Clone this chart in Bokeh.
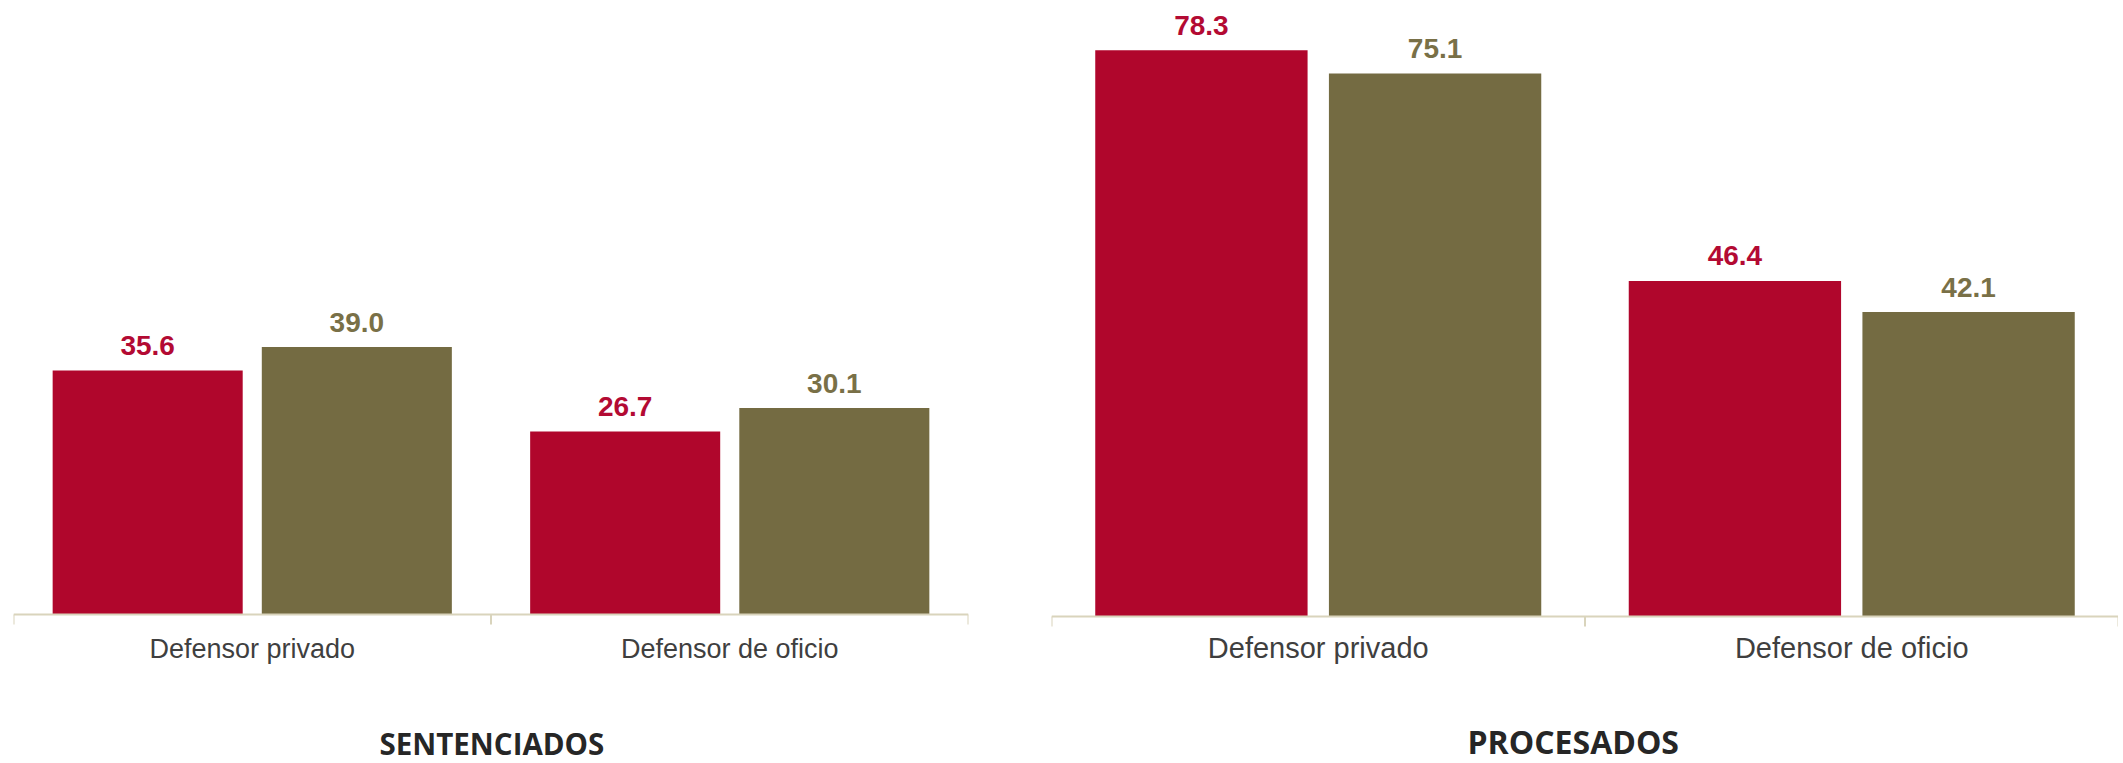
from bokeh.plotting import figure
from bokeh.models import ColumnDataSource, FactorRange, Range1d, Span, Title
from bokeh.transform import dodge
from bokeh.layouts import row
from bokeh.core.properties import value
from bokeh.embed import file_html
from bokeh.resources import INLINE

# ---- data ----
categories = ["Defensor privado", "Defensor de oficio"]
sentenciados_serie1 = [35.6, 26.7]
sentenciados_serie2 = [39.0, 30.1]
procesados_serie1 = [78.3, 46.4]
procesados_serie2 = [75.1, 42.1]
panel_titles = ["SENTENCIADOS", "PROCESADOS"]

# ---- styles ----
RED = "#B0062C"
OLIVE = "#746B42"
RED_TXT = "#B30A33"
OLIVE_TXT = "#797047"
AXIS = "#D9D4BC"
CAT_TXT = "#3F3F3F"
TITLE_TXT = "#262626"

FIG_H = 763
FRAME_TOP = 10      # page px
FRAME_BOTTOM = 629  # page px


def make_panel(s1, s2, title, width, b_left, b_right, px_per_unit, axis_px,
               cat_size, cat_standoff, val_size, title_size, title_dx, spacer):
    y_end = (axis_px - FRAME_TOP) / px_per_unit
    y_start = (axis_px - FRAME_BOTTOM) / px_per_unit
    p = figure(width=width, height=FIG_H,
               x_range=FactorRange(factors=categories, range_padding=0),
               y_range=Range1d(y_start, y_end),
               output_backend="svg", toolbar_location=None,
               y_axis_location=None,
               min_border_left=b_left, min_border_right=b_right,
               min_border_top=FRAME_TOP, min_border_bottom=FIG_H - FRAME_BOTTOM)
    p.outline_line_color = None
    p.xgrid.grid_line_color = None
    p.ygrid.grid_line_color = None
    p.background_fill_color = "white"
    p.border_fill_color = "white"

    src = ColumnDataSource(dict(
        cat=categories, s1=s1, s2=s2,
        l1=[f"{v:.1f}" for v in s1], l2=[f"{v:.1f}" for v in s2]))

    off, w = 0.219, 0.398
    p.vbar(x=dodge("cat", -off, range=p.x_range), top="s1", width=w, source=src,
           fill_color=RED, line_color=None)
    p.vbar(x=dodge("cat", off, range=p.x_range), top="s2", width=w, source=src,
           fill_color=OLIVE, line_color=None)

    for col, lab, dx, c in (("s1", "l1", -off, RED_TXT), ("s2", "l2", off, OLIVE_TXT)):
        p.text(x=dodge("cat", dx, range=p.x_range), y=col, text=lab, source=src,
               text_align="center", text_baseline="alphabetic", y_offset=-25,
               text_font=value("Liberation Sans"), text_font_style="bold",
               text_font_size=f"{val_size}px", text_color=c)

    # baseline axis line and category-boundary ticks
    p.add_layout(Span(location=0, dimension="width", line_color=AXIS, line_width=2))
    bounds = list(range(len(categories) + 1))
    tick_len = 10 / px_per_unit
    p.segment(x0=bounds, y0=[0] * len(bounds), x1=bounds, y1=[-tick_len] * len(bounds),
              line_color=AXIS, line_width=2)

    ax = p.xaxis[0]
    ax.axis_line_color = None
    ax.major_tick_line_color = None
    ax.minor_tick_line_color = None
    ax.major_tick_out = 0
    ax.major_tick_in = 0
    ax.major_label_standoff = cat_standoff
    ax.major_label_text_font = "Liberation Sans"
    ax.major_label_text_font_size = f"{cat_size}px"
    ax.major_label_text_color = CAT_TXT
    # blank axis label used only as vertical space before the panel title
    ax.axis_label = " "
    ax.axis_label_text_font_size = "1px"
    ax.axis_label_standoff = spacer

    p.add_layout(Title(text=title, align="left", offset=title_dx, standoff=0,
                       vertical_align="bottom", text_font="Open Sans",
                       text_font_style="bold", text_font_size=f"{title_size}px",
                       text_color=TITLE_TXT), "below")
    return p


left = make_panel(sentenciados_serie1, sentenciados_serie2, panel_titles[0],
                  width=1008, b_left=13, b_right=40, px_per_unit=6.88, axis_px=616,
                  cat_size=27, cat_standoff=6, val_size=28, title_size=29.5,
                  title_dx=366, spacer=50)
right = make_panel(procesados_serie1, procesados_serie2, panel_titles[1],
                   width=1110, b_left=43, b_right=0, px_per_unit=7.255, axis_px=618,
                   cat_size=29, cat_standoff=4, val_size=28, title_size=32,
                   title_dx=416, spacer=47)

layout = row(left, right)
open("out.html", "w").write(file_html(layout, INLINE))
